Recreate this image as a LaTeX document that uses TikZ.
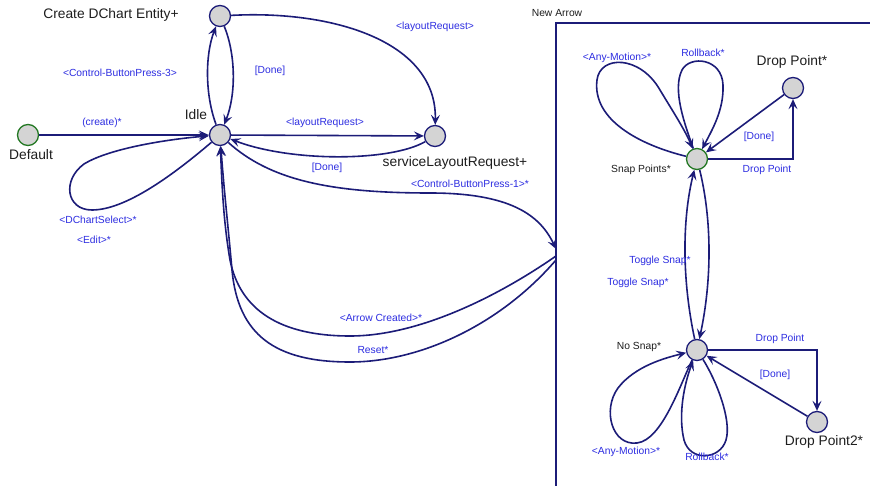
\documentclass[tikz,border=0pt]{standalone}
\usepackage{fontspec}
\setmainfont{Liberation Sans}
\usetikzlibrary{arrows.meta}
\definecolor{edgecol}{RGB}{28,28,120}
\definecolor{lblcol}{RGB}{45,45,225}
\definecolor{statefill}{RGB}{212,212,212}
\definecolor{initcol}{RGB}{35,120,35}
\definecolor{namecol}{RGB}{30,30,30}
\begin{document}
\begin{tikzpicture}[x=1pt,y=-1pt,
  state/.style={circle,draw=edgecol,fill=statefill,line width=1.3pt,minimum size=21pt,inner sep=0pt},
  initstate/.style={state,draw=initcol},
  edge/.style={draw=edgecol,line width=1.6pt,-{Stealth[length=10pt,width=9pt,inset=4pt]}},
  frame/.style={draw=edgecol,line width=1.7pt},
  lbl/.style={text=lblcol,font=\fontsize{10.3}{12}\selectfont,inner sep=0pt},
  bigname/.style={text=namecol,font=\fontsize{13.8}{16}\selectfont,inner sep=0pt},
  smallname/.style={text=namecol,font=\fontsize{10.3}{12}\selectfont,inner sep=0pt},
]
\useasboundingbox[fill=white] (0,0) rectangle (870,486);

% composite state frame
\draw[frame] (556,486) -- (556,23) -- (870,23);
\node[smallname] (boxl) at (557,13) {New Arrow};
\coordinate (boxin) at (556,249);
\coordinate (boxout1) at (556,256);
\coordinate (boxout2) at (556,260);

% states
\node[initstate] (def) at (28,135) {};
\node[state] (idle) at (220,135) {};
\node[state] (create) at (220,16) {};
\node[state] (slr) at (435,136) {};
\node[initstate] (snap) at (697,159) {};
\node[state] (dp) at (793,88) {};
\node[state] (nosnap) at (697,350) {};
\node[state] (dp2) at (817,422) {};

% state names
\node[bigname] (defl) at (31,155) {Default};
\node[bigname] (idlel) at (196,115) {Idle};
\node[bigname] (createl) at (111,15) {Create DChart Entity+};
\node[bigname] (slrl) at (455,163) {serviceLayoutRequest+};
\node[bigname] (dpl) at (792,62) {Drop Point*};
\node[bigname] (dp2l) at (824,442) {Drop Point2*};
\node[smallname] (snapl) at (641,170) {Snap Points*};
\node[smallname] (nosnapl) at (639,347) {No Snap*};

% top level transitions
\draw[edge] (def) -- (idle);
\draw[edge] (idle) .. controls (172,176) and (125,210) .. (92,210)
  .. controls (66,210) and (62,180) .. (84,164)
  .. controls (110,148) and (170,139) .. (idle);
\draw[edge] (idle) .. controls (205,95) and (205,55) .. (create);
\draw[edge] (create) .. controls (236,55) and (236,95) .. (idle);
\draw[edge] (create) .. controls (330,10) and (437,40) .. (slr);
\draw[edge] (idle) -- (slr);
\draw[edge] (slr) .. controls (390,162) and (290,162) .. (idle);
\draw[edge] (idle) .. controls (270,180) and (330,193) .. (430,193)
  .. controls (510,193) and (540,215) .. (boxin);
\draw[edge] (boxout1) .. controls (500,295) and (420,336) .. (350,336)
  .. controls (280,336) and (240,310) .. (230,260)
  .. controls (224,225) and (222,190) .. (idle);
\draw[edge] (boxout2) .. controls (500,325) and (420,362) .. (350,362)
  .. controls (275,362) and (238,335) .. (232,270)
  .. controls (228,225) and (224,190) .. (idle);

% transitions inside New Arrow
\draw[edge] (snap) .. controls (640,145) and (592,120) .. (597,80)
  .. controls (600,55) and (640,55) .. (660,90)
  .. controls (672,110) and (685,130) .. (snap);
\draw[edge] (snap) .. controls (685,125) and (672,90) .. (682,70)
  .. controls (690,55) and (722,58) .. (723,85)
  .. controls (724,110) and (712,130) .. (snap);
\draw[edge] (dp) -- (snap);
\draw[edge] (snap) -- (snap -| dp) -- (dp);
\draw[edge] (snap) .. controls (712,220) and (712,280) .. (nosnap);
\draw[edge] (nosnap) .. controls (682,280) and (682,220) .. (snap);
\draw[edge] (nosnap) .. controls (680,385) and (662,440) .. (637,443)
  .. controls (612,446) and (602,410) .. (618,388)
  .. controls (635,366) and (665,358) .. (nosnap);
\draw[edge] (nosnap) .. controls (716,380) and (732,420) .. (726,440)
  .. controls (720,460) and (690,462) .. (684,440)
  .. controls (678,415) and (684,385) .. (nosnap);
\draw[edge] (nosnap) -- (nosnap -| dp2) -- (dp2);
\draw[edge] (dp2) -- (nosnap);

% transition labels
\node[lbl] (t1) at (102,123) {(create)*};
\node[lbl] (t2) at (98,220) {<DChartSelect>*};
\node[lbl] (t3) at (94,240) {<Edit>*};
\node[lbl] (t4) at (120,73) {<Control-ButtonPress-3>};
\node[lbl] (t5) at (270,71) {[Done]};
\node[lbl] (t6) at (435,27) {<layoutRequest>};
\node[lbl] (t7) at (325,123) {<layoutRequest>};
\node[lbl] (t8) at (327,168) {[Done]};
\node[lbl] (t9) at (470,184) {<Control-ButtonPress-1>*};
\node[lbl] (t10) at (381,318) {<Arrow Created>*};
\node[lbl] (t11) at (373,350) {Reset*};
\node[lbl] (t12) at (617,58) {<Any-Motion>*};
\node[lbl] (t13) at (703,53) {Rollback*};
\node[lbl] (t14) at (759,137) {[Done]};
\node[lbl] (t15) at (767,170) {Drop Point};
\node[lbl] (t16) at (660,261) {Toggle Snap*};
\node[lbl] (t17) at (638,283) {Toggle Snap*};
\node[lbl] (t18) at (780,339) {Drop Point};
\node[lbl] (t19) at (775,375) {[Done]};
\node[lbl] (t20) at (626,452) {<Any-Motion>*};
\node[lbl] (t21) at (707,457) {Rollback*};
\end{tikzpicture}
\end{document}
